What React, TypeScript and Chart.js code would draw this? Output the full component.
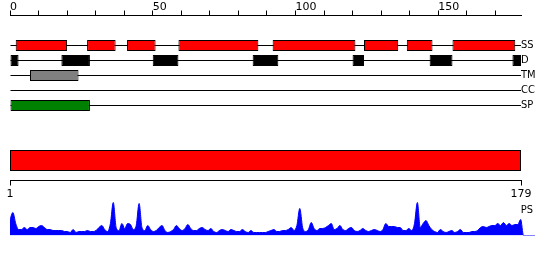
import React, { useEffect, useRef } from 'react';
import { Chart, registerables } from 'chart.js';

Chart.register(...registerables);

// ---- data ----
const trackNames = ['SS', 'D', 'TM', 'CC', 'SP'];
const ssSegments = [[2, 20], [27, 37], [41, 51], [59, 87], [92, 121], [124, 136], [139, 148], [155, 177]];
const dSegments = [[0, 3], [18, 28], [50, 59], [85, 94], [120, 124], [147, 155], [176, 179]];
const tmSegments = [[7, 24]];
const ccSegments: number[][] = [];
const spSegments = [[0, 28]];
const trackSegments = [ssSegments, dSegments, tmSegments, ccSegments, spSegments];
const trackColors = ['#ff0000', '#000000', '#808080', '#ffffff', '#008000'];

const seqStart = 1;
const seqEnd = 179;
const topLabelEvery = 50;
const topTickStep = 10;
const psLabel = 'PS';

// PS profile, residue 1..179 followed by the flat tail (180..184)
const psValues = [
  16, 23, 12, 6, 6, 8, 6, 8, 8, 7,
  9, 10, 8, 6, 6, 5, 5, 5, 5, 4,
  4, 3, 6, 3, 4, 4, 4, 5, 4, 4,
  5, 8, 10, 6, 4, 12, 33, 8, 5, 12,
  7, 12, 11, 6, 10, 32, 8, 5, 10, 6,
  4, 5, 8, 10, 5, 3, 4, 6, 10, 7,
  5, 7, 11, 7, 5, 5, 7, 8, 6, 5,
  7, 4, 3, 5, 6, 5, 4, 6, 5, 4,
  4, 6, 4, 3, 5, 3, 3, 3, 3, 3,
  4, 5, 6, 4, 4, 5, 5, 6, 8, 5,
  10, 27, 8, 4, 6, 13, 7, 5, 7, 7,
  8, 10, 12, 6, 7, 10, 6, 5, 7, 8,
  5, 4, 5, 7, 5, 4, 5, 6, 5, 4,
  6, 12, 9, 9, 9, 8, 8, 5, 5, 7,
  5, 12, 33, 8, 12, 15, 10, 6, 4, 3,
  6, 4, 3, 4, 5, 3, 4, 6, 3, 3,
  3, 4, 4, 5, 8, 9, 8, 9, 10, 10,
  12, 10, 13, 10, 12, 10, 11, 11, 16,
  0, 0, 0, 0, 0,
];

const FONT = { family: '"DejaVu Sans", "Liberation Sans", sans-serif', size: 11 };
const LABEL_FONT = { family: '"DejaVu Sans Condensed", "DejaVu Sans", sans-serif', size: 11 };

export default function App() {
  const refA = useRef<HTMLCanvasElement>(null);
  const refB = useRef<HTMLCanvasElement>(null);
  const refC = useRef<HTMLCanvasElement>(null);

  useEffect(() => {
    Chart.defaults.font.family = FONT.family;
    Chart.defaults.font.size = FONT.size;
    Chart.defaults.color = '#000';

    const common = {
      responsive: false,
      animation: false as const,
      devicePixelRatio: 1,
      events: [] as any[],
      plugins: { legend: { display: false }, tooltip: { enabled: false }, title: { display: false } },
    };

    // --- Chart A : feature tracks ---
    const baseline = {
      data: trackNames.map((_, i) => ({ x: [0, seqEnd], y: i + 2 })),
      backgroundColor: '#000',
      borderWidth: 0,
      barThickness: 1,
      grouped: false,
      inflateAmount: 0,
      order: 1,
    };
    const boxSets = trackSegments.map((segs, i) => ({
      data: segs.map((s) => ({ x: [s[0], s[1]], y: i + 2 })),
      backgroundColor: trackColors[i],
      borderColor: '#000',
      borderWidth: 1,
      borderSkipped: false,
      barThickness: 11,
      grouped: false,
      inflateAmount: 0,
      order: 0,
    }));

    const chartA = new Chart(refA.current!, {
      type: 'bar',
      data: { datasets: [...boxSets, baseline] as any },
      options: {
        ...common,
        indexAxis: 'y',
        layout: { padding: { left: 10, right: 0, top: 0, bottom: 139.5 } },
        scales: {
          x: {
            type: 'linear',
            position: 'top',
            min: 0,
            max: seqEnd,
            afterFit: (s: any) => { s.height = 15.5; },
            ticks: {
              stepSize: topTickStep,
              includeBounds: false,
              autoSkip: false,
              maxRotation: 0,
              align: 'start',
              padding: -3,
              callback: (v: any) => (Number(v) % topLabelEvery === 0 ? String(v) : ''),
            },
            grid: { drawOnChartArea: false, tickLength: 5, color: '#000', lineWidth: 1 },
            border: { display: true, color: '#000', width: 1 },
          },
          y: {
            type: 'linear',
            position: 'right',
            reverse: true,
            min: 0,
            max: 7,
            offset: false,
            afterFit: (s: any) => { s.width = 29; },
            ticks: {
              stepSize: 1,
              autoSkip: false,
              padding: 0,
              font: LABEL_FONT,
              callback: (v: any) => trackNames[Number(v) - 2] ?? '',
            },
            grid: { display: false, drawTicks: false },
            border: { display: false },
          },
        },
      } as any,
    });

    // --- Chart B : sequence bar with 1..179 axis ---
    const chartB = new Chart(refB.current!, {
      type: 'bar',
      data: {
        labels: ['sequence'],
        datasets: [{
          data: [[seqStart, seqEnd]],
          backgroundColor: '#ff0000',
          borderColor: '#000',
          borderWidth: 1,
          borderSkipped: false,
          barThickness: 21,
          inflateAmount: 0,
        }] as any,
      },
      options: {
        ...common,
        indexAxis: 'y',
        layout: { padding: { left: 10, right: 29, top: 140.5, bottom: 0 } },
        scales: {
          x: {
            type: 'linear',
            position: 'bottom',
            min: seqStart,
            max: seqEnd,
            afterBuildTicks: (s: any) => { s.ticks = [{ value: seqStart }, { value: seqEnd }]; },
            afterFit: (s: any) => { s.height = 79.5; },
            ticks: { autoSkip: false, maxRotation: 0, padding: 2 },
            grid: { drawOnChartArea: false, tickLength: 5, color: '#000', lineWidth: 1 },
            border: { display: true, color: '#000', width: 1 },
          },
          y: { type: 'category', display: false },
        },
      } as any,
    });

    // --- Chart C : PS profile ---
    const chartC = new Chart(refC.current!, {
      type: 'line',
      data: {
        datasets: [{
          data: psValues.map((v, i) => ({ x: seqStart + i, y: v })),
          fill: 'origin',
          backgroundColor: '#0000ff',
          borderColor: '#0000ff',
          borderWidth: 1,
          pointRadius: 0,
          cubicInterpolationMode: 'monotone',
        }] as any,
      },
      options: {
        ...common,
        layout: { padding: { left: 10, right: 0, top: 195.5, bottom: 24.5 } },
        scales: {
          x: { type: 'linear', min: seqStart, max: psValues.length, display: false },
          y: {
            type: 'linear',
            position: 'right',
            min: 0,
            max: 40,
            afterFit: (s: any) => { s.width = 15; },
            afterBuildTicks: (s: any) => { s.ticks = [{ value: 25 }]; },
            ticks: { mirror: true, padding: -2, autoSkip: false, font: LABEL_FONT, callback: () => psLabel },
            grid: { display: false, drawTicks: false },
            border: { display: false },
          },
        },
      } as any,
    });

    return () => { chartA.destroy(); chartB.destroy(); chartC.destroy(); };
  }, []);

  const cs: React.CSSProperties = { position: 'absolute', left: 0, top: 0, width: 550, height: 260 };
  return (
    <div style={{ position: 'fixed', left: 0, top: 0, width: 550, height: 260, background: '#fff' }}>
      <canvas ref={refA} width={550} height={260} style={cs} />
      <canvas ref={refB} width={550} height={260} style={cs} />
      <canvas ref={refC} width={550} height={260} style={cs} />
    </div>
  );
}
